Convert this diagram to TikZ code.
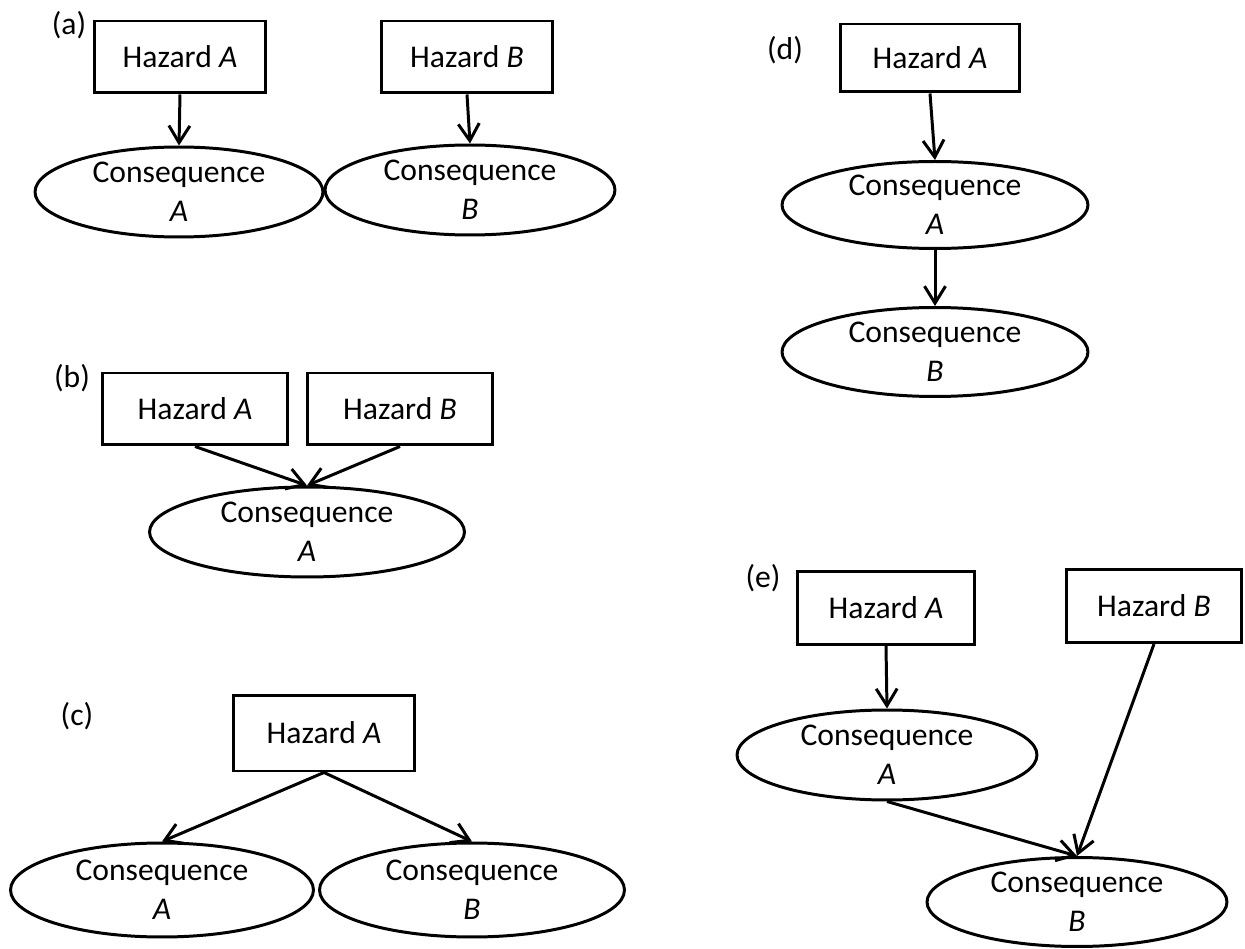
\documentclass[tikz,border=0pt]{standalone}
\usepackage{fontspec}
\setmainfont{Carlito}
\usepackage{tikz}
\usetikzlibrary{shapes.geometric,arrows.meta}
\tikzset{
  hz/.style={draw=black,line width=1.7pt,rectangle,inner sep=0pt,
             minimum width=3.5cm,minimum height=1.44cm,font=\fontsize{18}{22}\selectfont},
  csq/.style={hz,ellipse,align=center,minimum width=5.9cm,minimum height=1.8cm},
  hzlbl/.style={inner sep=0pt,font=\fontsize{18}{22}\selectfont},
  hzflow/.style={-{Straight Barb[length=3.4mm,width=4.2mm]},line width=1.7pt},
}
\begin{document}
\begin{tikzpicture}[x=0.02cm,y=-0.02cm]
  \useasboundingbox (0,0) rectangle (1245,949);

  \node[hzlbl] (La) at (69,25) {(a)};
  \node[hz,minimum width=3.44cm] (HA1) at (180,57) {Hazard \textit{A}};
  \node[hz,minimum width=3.44cm] (HB1) at (467,57) {Hazard \textit{B}};
  \node[csq,minimum width=5.76cm] (CA1) at (179,192) {Consequence\\\textit{A}};
  \node[csq,minimum width=5.8cm] (CB1) at (470,190) {Consequence\\\textit{B}};

  \node[hzlbl] (Lb) at (72,378) {(b)};
  \node[hz,minimum width=3.72cm] (HA2) at (195,409) {Hazard \textit{A}};
  \node[hz,minimum width=3.72cm] (HB2) at (400,409) {Hazard \textit{B}};
  \node[csq,minimum width=6.3cm] (CA2) at (307,532) {Consequence\\\textit{A}};

  \node[hzlbl] (Lc) at (77,716) {(c)};
  \node[hz,minimum width=3.64cm,minimum height=1.52cm] (HA3) at (324,733) {Hazard \textit{A}};
  \node[csq,minimum width=6.06cm,minimum height=1.88cm] (CA3) at (162,890) {Consequence\\\textit{A}};
  \node[csq,minimum width=6.1cm,minimum height=1.88cm] (CB3) at (472,890) {Consequence\\\textit{B}};

  \node[hzlbl] (Ld) at (785,50) {(d)};
  \node[hz,minimum width=3.6cm,minimum height=1.36cm] (HA4) at (930,58) {Hazard \textit{A}};
  \node[csq,minimum width=6.12cm,minimum height=1.74cm] (CA4) at (935,205) {Consequence\\\textit{A}};
  \node[csq,minimum width=6.12cm,minimum height=1.78cm] (CB4) at (935,352) {Consequence\\\textit{B}};

  \node[hzlbl] (Le) at (763,578) {(e)};
  \node[hz,minimum width=3.56cm,minimum height=1.46cm] (HA5) at (886,608) {Hazard \textit{A}};
  \node[hz,minimum width=3.5cm,minimum height=1.46cm] (HB5) at (1154,606) {Hazard \textit{B}};
  \node[csq,minimum width=6cm] (CA5) at (887,755) {Consequence\\\textit{A}};
  \node[csq,minimum width=6cm,minimum height=1.78cm] (CB5) at (1077,902) {Consequence\\\textit{B}};

  \foreach \a/\b in {HA1/CA1,HB1/CB1,HA2/CA2,HB2/CA2,HA3/CA3,HA3/CB3,HA4/CA4,CA4/CB4,HA5/CA5,HB5/CB5,CA5/CB5}{\draw[hzflow] (\a.south)--(\b.north);}
\end{tikzpicture}
\end{document}
